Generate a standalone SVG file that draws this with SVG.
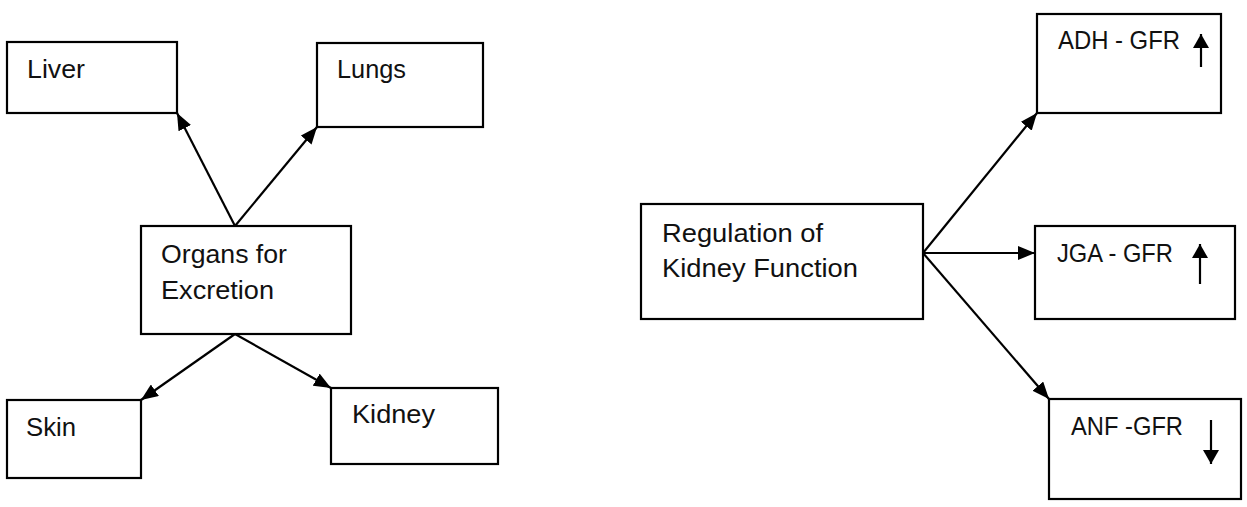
<svg xmlns="http://www.w3.org/2000/svg" width="1247" height="507" viewBox="0 0 1247 507">
  <style>
    .box { fill: #ffffff; stroke: #000000; stroke-width: 2.2; }
    .lbl { font-family: "Liberation Sans", Arial, sans-serif; font-size: 26px; fill: #111111; }
    .edge { stroke: #000000; stroke-width: 2.2; fill: none; marker-end: url(#head); }
    .tick { stroke: #000000; stroke-width: 2.2; fill: none; marker-end: url(#small); }
  </style>
  <defs>
    <marker id="head" markerUnits="userSpaceOnUse" markerWidth="18" markerHeight="14" refX="17" refY="7" orient="auto">
      <path d="M0,0 L17,7 L0,14 z" fill="#000000"/>
    </marker>
    <marker id="small" markerUnits="userSpaceOnUse" markerWidth="15" markerHeight="16" refX="14" refY="8" orient="auto">
      <path d="M0,0 L14,8 L0,16 z" fill="#000000"/>
    </marker>
  </defs>
  <rect width="1247" height="507" fill="#ffffff"/>

  <!-- left cluster: excretory organs -->
  <g id="liver">
    <rect class="box" x="7" y="42" width="170" height="71"/>
    <text class="lbl" x="27" y="78" textLength="58" lengthAdjust="spacingAndGlyphs">Liver</text>
  </g>
  <g id="lungs">
    <rect class="box" x="317" y="43" width="166" height="84"/>
    <text class="lbl" x="337" y="78" textLength="69" lengthAdjust="spacingAndGlyphs">Lungs</text>
  </g>
  <g id="organs">
    <rect class="box" x="141" y="226" width="210" height="108"/>
    <text class="lbl" x="161" y="263" textLength="126" lengthAdjust="spacingAndGlyphs">Organs for</text>
    <text class="lbl" x="161" y="299" textLength="113" lengthAdjust="spacingAndGlyphs">Excretion</text>
  </g>
  <g id="skin">
    <rect class="box" x="7" y="400" width="134" height="78"/>
    <text class="lbl" x="26" y="436" textLength="50" lengthAdjust="spacingAndGlyphs">Skin</text>
  </g>
  <g id="kidney">
    <rect class="box" x="331" y="388" width="167" height="76"/>
    <text class="lbl" x="352" y="423" textLength="83" lengthAdjust="spacingAndGlyphs">Kidney</text>
  </g>

  <!-- right cluster: regulation -->
  <g id="regulation">
    <rect class="box" x="641" y="204" width="282" height="115"/>
    <text class="lbl" x="662" y="242" textLength="161" lengthAdjust="spacingAndGlyphs">Regulation of</text>
    <text class="lbl" x="662" y="277" textLength="196" lengthAdjust="spacingAndGlyphs">Kidney Function</text>
  </g>
  <g id="adh">
    <rect class="box" x="1037" y="14" width="184" height="99"/>
    <text class="lbl" x="1058" y="49" textLength="122" lengthAdjust="spacingAndGlyphs">ADH - GFR</text>
    <line class="tick" x1="1201" y1="67" x2="1201" y2="34"/>
  </g>
  <g id="jga">
    <rect class="box" x="1035" y="226" width="200" height="93"/>
    <text class="lbl" x="1057" y="262" textLength="116" lengthAdjust="spacingAndGlyphs">JGA - GFR</text>
    <line class="tick" x1="1200" y1="284" x2="1200" y2="244"/>
  </g>
  <g id="anf">
    <rect class="box" x="1049" y="399" width="192" height="100"/>
    <text class="lbl" x="1071" y="435" textLength="112" lengthAdjust="spacingAndGlyphs">ANF -GFR</text>
    <line class="tick" x1="1211" y1="420" x2="1211" y2="464"/>
  </g>

  <!-- connectors -->
  <g id="connectors">
    <line class="edge" x1="235" y1="226" x2="177" y2="113"/>
    <line class="edge" x1="235" y1="226" x2="317" y2="127"/>
    <line class="edge" x1="235" y1="334" x2="141" y2="400"/>
    <line class="edge" x1="235" y1="334" x2="331" y2="388"/>
    <line class="edge" x1="923" y1="253" x2="1037" y2="113"/>
    <line class="edge" x1="923" y1="253" x2="1035" y2="253"/>
    <line class="edge" x1="923" y1="253" x2="1049" y2="399"/>
  </g>
</svg>
